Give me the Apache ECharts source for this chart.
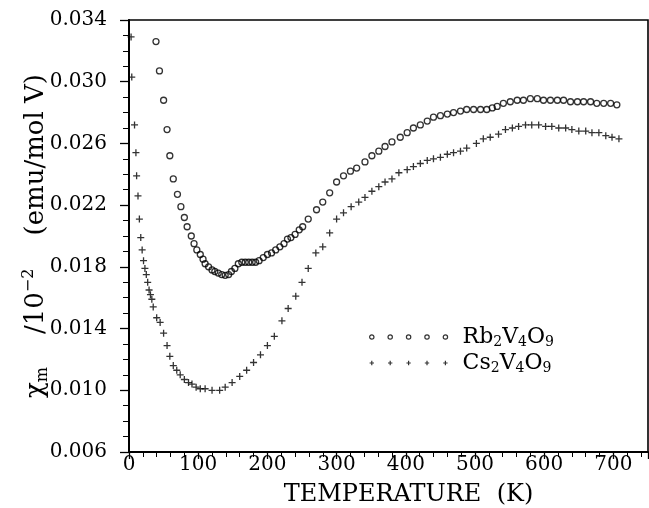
<!DOCTYPE html>
<html><head><meta charset="utf-8">
<script src="https://cdn.jsdelivr.net/npm/echarts@6/dist/echarts.min.js"></script>
<style>html,body{margin:0;padding:0;background:#fff}#c{width:649px;height:508px}</style>
</head><body><div id="c"></div>
<script>
// Rb2V4O9 (open circles)
const rbT = [39,44,50,55,59,64,70,75,80,84,90,94,98,103,107,110,115,120,124,129,134,139,144,148,153,158,163,168,173,178,183,188,194,200,206,212,218,224,229,234,240,246,251,259,271,280,290,300,310,320,329,341,351,361,370,380,392,402,411,421,431,440,450,460,469,479,488,498,508,517,525,532,541,551,561,570,580,590,599,609,619,628,638,648,657,667,676,686,696,705];
const rbChi = [0.0326,0.0307,0.0288,0.0269,0.0252,0.0237,0.0227,0.0219,0.0212,0.0206,0.0200,0.0195,0.0191,0.0188,0.0185,0.0182,0.0180,0.0178,0.0177,0.0176,0.0175,0.01745,0.0175,0.0177,0.0179,0.0182,0.0183,0.0183,0.0183,0.0183,0.0183,0.0184,0.0186,0.0188,0.0189,0.0191,0.0193,0.0195,0.0198,0.0199,0.0201,0.0204,0.0206,0.0211,0.0217,0.0222,0.0228,0.0235,0.0239,0.0242,0.0244,0.0248,0.0252,0.0255,0.0258,0.0261,0.0264,0.0267,0.0270,0.0272,0.02745,0.0277,0.0278,0.0279,0.0280,0.0281,0.0282,0.0282,0.0282,0.0282,0.0283,0.0284,0.0286,0.0287,0.0288,0.0288,0.0289,0.0289,0.0288,0.0288,0.0288,0.0288,0.0287,0.0287,0.0287,0.0287,0.0286,0.0286,0.0286,0.0285];
// Cs2V4O9 (plus signs)
const csT = [3,4,8,10,11,13,15,17,19,21,23,25,27,29,31,33,35,40,45,50,55,59,64,69,74,80,86,91,97,103,110,120,131,139,149,160,170,180,190,200,210,221,230,241,250,259,270,280,290,300,310,321,332,341,351,361,370,380,390,402,411,421,431,440,450,460,469,479,488,502,512,522,534,544,554,563,573,582,592,602,611,621,631,640,650,660,669,679,689,698,708];
const csChi = [0.0329,0.0303,0.0272,0.0254,0.0239,0.0226,0.0211,0.0199,0.0191,0.0184,0.0179,0.0175,0.0170,0.0165,0.0162,0.0159,0.0154,0.0147,0.0144,0.0137,0.0129,0.0122,0.0116,0.0113,0.0110,0.0107,0.0105,0.0104,0.0102,0.0101,0.0101,0.0100,0.0100,0.0102,0.0105,0.0109,0.0113,0.0118,0.0123,0.0129,0.0135,0.0145,0.0153,0.0161,0.0170,0.0179,0.0189,0.0193,0.0202,0.0211,0.0215,0.0219,0.0222,0.0225,0.0229,0.0232,0.0235,0.0237,0.0241,0.0243,0.0245,0.0247,0.0249,0.0250,0.0251,0.0253,0.0254,0.0255,0.0257,0.0260,0.0263,0.0264,0.0266,0.0269,0.0270,0.0271,0.0272,0.0272,0.0272,0.0271,0.0271,0.0270,0.0270,0.0269,0.0268,0.0268,0.0267,0.0267,0.0265,0.0264,0.0263];
const seriesNames = ['Rb2V4O9','Cs2V4O9'];
const xTickValues = [0,100,200,300,400,500,600,700];
const yTickLabels = ['0.006','0.010','0.014','0.018','0.022','0.026','0.030','0.034'];

const F = 'DejaVu Serif';
const circleIcon = 'path://' + [0,1,2,3,4].map(i => {
  const c = 2.2 + i * 18.5;
  return `M${c-2.2},2.2 A2.2,2.2 0 1,1 ${c+2.2},2.2 A2.2,2.2 0 1,1 ${c-2.2},2.2 Z`;
}).join(' ');
const plusIcon = 'path://' + [0,1,2,3,4].map(i => {
  const c = 2.2 + i * 18.5;
  return `M${c-2.2},2.2 L${c+2.2},2.2 M${c},0 L${c},4.4`;
}).join(' ');

const chart = echarts.init(document.getElementById('c'), null, {renderer:'canvas'});
chart.setOption({
  animation: false,
  backgroundColor: '#fff',
  grid: {left:129, right:1, top:20, bottom:56, outerBoundsMode:'none', containLabel:false,
         show:true, borderColor:'#000', borderWidth:1.6, backgroundColor:'transparent'},
  xAxis: {
    type:'value', min:0, max:750, interval:100,
    axisLine:{onZero:false, lineStyle:{color:'#000', width:2}},
    axisTick:{length:7, lineStyle:{color:'#000', width:1.3}},
    minorTick:{show:true, splitNumber:5, length:5, lineStyle:{color:'#000', width:1}},
    splitLine:{show:false},
    axisLabel:{margin:3, fontFamily:F, fontSize:20, color:'#000', showMaxLabel:false,
      formatter: v => xTickValues.includes(v) ? String(v) : ''},
    name:'TEMPERATURE  (K)', nameLocation:'middle', nameGap:31, nameMoveOverlap:false,
    nameTextStyle:{fontFamily:F, fontSize:24, color:'#000', padding:[0,0,0,40]}
  },
  yAxis: {
    type:'value', min:0.006, max:0.034, interval:0.004,
    axisLine:{onZero:false, lineStyle:{color:'#000', width:2}},
    axisTick:{length:9, lineStyle:{color:'#000', width:1.3}},
    minorTick:{show:true, splitNumber:4, length:6, lineStyle:{color:'#000', width:1}},
    splitLine:{show:false},
    axisLabel:{margin:22, fontFamily:F, fontSize:20, color:'#000',
      formatter: v => { const s = v.toFixed(3); return yTickLabels.includes(s) ? s : ''; }},
    name:'{t|χ}{sub|m}{t|    /10}{sup|−2}{t|    (emu/mol V)}',
    nameLocation:'middle', nameRotate:90, nameGap:78, nameMoveOverlap:false,
    nameTextStyle:{fontFamily:F, fontSize:26, color:'#000',
      rich:{
        t:{fontFamily:F, fontSize:26, color:'#000', lineHeight:30},
        sub:{fontFamily:F, fontSize:16, color:'#000', lineHeight:14, verticalAlign:'bottom'},
        sup:{fontFamily:F, fontSize:16, color:'#000', lineHeight:14, verticalAlign:'top'}
      }}
  },
  legend: {
    orient:'vertical', left:364, top:321, itemGap:3, itemWidth:78, itemHeight:4.4,
    selectedMode:false,
    data:[
      {name:seriesNames[0], icon:circleIcon, itemStyle:{color:'rgba(0,0,0,0)', borderColor:'#000', borderWidth:1.2}},
      {name:seriesNames[1], icon:plusIcon, itemStyle:{color:'rgba(0,0,0,0)', borderColor:'#000', borderWidth:1.2}}
    ],
    formatter: name => {
      const m = name.match(/^([A-Za-z]+)(\d)V(\d)O(\d)$/);
      return `{n|${m[1]}}{s|${m[2]}}{n|V}{s|${m[3]}}{n|O}{s|${m[4]}}`;
    },
    textStyle:{fontFamily:F, fontSize:22, color:'#000', padding:[0,0,0,10],
      rich:{
        n:{fontFamily:F, fontSize:22, color:'#000', lineHeight:24},
        s:{fontFamily:F, fontSize:14, color:'#000', lineHeight:12, verticalAlign:'bottom'}
      }}
  },
  series: [
    {type:'scatter', name:seriesNames[0], data: rbT.map((t,i)=>[t, rbChi[i]]),
     symbol:'circle', symbolSize:6, silent:true,
     itemStyle:{color:'rgba(0,0,0,0)', borderColor:'#000', borderWidth:1.3},
     emphasis:{disabled:true}},
    {type:'scatter', name:seriesNames[1], data: csT.map((t,i)=>[t, csChi[i]]),
     symbol:'path://M0,5L10,5M5,0L5,10', symbolSize:7, silent:true,
     itemStyle:{color:'rgba(0,0,0,0)', borderColor:'#000', borderWidth:1.3},
     emphasis:{disabled:true}}
  ]
});
</script>
</body></html>
